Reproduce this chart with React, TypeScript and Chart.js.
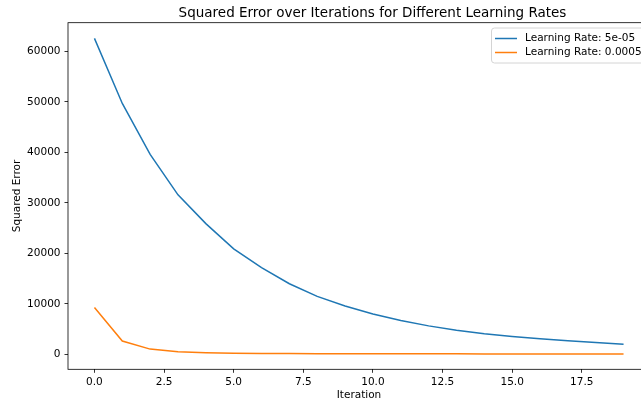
import React, { useEffect, useRef } from "react";
import { Chart, registerables } from "chart.js";

Chart.register(...registerables);

const iterations = [0, 1, 2, 3, 4, 5, 6, 7, 8, 9, 10, 11, 12, 13, 14, 15, 16, 17, 18, 19];
const errorLrSmall = [62600, 49700, 39600, 31600, 25900, 20900, 17200, 14000, 11500, 9600, 8000, 6700, 5650, 4800, 4100, 3550, 3100, 2700, 2350, 2000];
const errorLrLarge = [9300, 2650, 1050, 520, 330, 240, 190, 160, 140, 130, 120, 115, 110, 108, 105, 103, 102, 101, 100, 100];
const seriesLabels = ["Learning Rate: 5e-05", "Learning Rate: 0.0005"];
const seriesColors = ["#1f77b4", "#ff7f0e"];
const xTickValues = [0, 2.5, 5, 7.5, 10, 12.5, 15, 17.5];
const yTickValues = [0, 10000, 20000, 30000, 40000, 50000, 60000];
const chartTitle = "Squared Error over Iterations for Different Learning Rates";
const xAxisTitle = "Iteration";
const yAxisTitle = "Squared Error";

const FONT = '"DejaVu Sans", sans-serif';

const mplPlugin = {
  id: "mplDecor",
  afterDraw(chart: any) {
    const { ctx, chartArea: a } = chart;
    ctx.save();
    // frame
    ctx.strokeStyle = "#000";
    ctx.lineWidth = 0.8;
    ctx.strokeRect(a.left, a.top, a.right - a.left, a.bottom - a.top);
    // title
    ctx.fillStyle = "#000";
    ctx.font = `13.5px ${FONT}`;
    ctx.textAlign = "center";
    ctx.textBaseline = "middle";
    ctx.fillText(chartTitle, 372.5, 13);
    // legend
    const bx = 491.5, by = 28, bw = 154, bh = 35, r = 3;
    ctx.beginPath();
    ctx.moveTo(bx + r, by);
    ctx.lineTo(bx + bw - r, by);
    ctx.arcTo(bx + bw, by, bx + bw, by + r, r);
    ctx.lineTo(bx + bw, by + bh - r);
    ctx.arcTo(bx + bw, by + bh, bx + bw - r, by + bh, r);
    ctx.lineTo(bx + r, by + bh);
    ctx.arcTo(bx, by + bh, bx, by + bh - r, r);
    ctx.lineTo(bx, by + r);
    ctx.arcTo(bx, by, bx + r, by, r);
    ctx.closePath();
    ctx.fillStyle = "rgba(255,255,255,0.8)";
    ctx.fill();
    ctx.strokeStyle = "#d4d4d4";
    ctx.lineWidth = 1;
    ctx.stroke();
    ctx.font = `10.5px ${FONT}`;
    ctx.textAlign = "left";
    ctx.textBaseline = "middle";
    chart.data.datasets.forEach((ds: any, i: number) => {
      const y = 38.5 + i * 14;
      ctx.strokeStyle = ds.borderColor;
      ctx.lineWidth = 1.5;
      ctx.beginPath();
      ctx.moveTo(495, y);
      ctx.lineTo(517, y);
      ctx.stroke();
      ctx.fillStyle = "#000";
      ctx.fillText(ds.label, 525, y);
    });
    ctx.restore();
  },
};

export default function App() {
  const ref = useRef<HTMLCanvasElement | null>(null);
  useEffect(() => {
    if (!ref.current) return;
    Chart.defaults.font.family = FONT;
    Chart.defaults.color = "#000";
    const chart = new Chart(ref.current, {
      type: "line",
      data: {
        datasets: [errorLrSmall, errorLrLarge].map((vals, i) => ({
          label: seriesLabels[i],
          data: iterations.map((it, j) => ({ x: it, y: vals[j] })),
          borderColor: seriesColors[i],
          backgroundColor: seriesColors[i],
          borderWidth: 1.5,
          pointRadius: 0,
          tension: 0,
          fill: false,
        })),
      },
      options: {
        responsive: false,
        animation: false,
        layout: { padding: { top: 22.7, right: 10, bottom: 0, left: 0 } },
        plugins: { legend: { display: false }, title: { display: false }, tooltip: { enabled: false } },
        scales: {
          x: {
            type: "linear",
            min: -0.95,
            max: 19.95,
            afterBuildTicks: (s: any) => { s.ticks = xTickValues.map((v) => ({ value: v })); },
            afterFit: (s: any) => { s.height = 400 - 369.3; },
            ticks: {
              autoSkip: false,
              maxRotation: 0,
              padding: 3,
              font: { size: 10.5 },
              color: "#000",
              callback: (v: any) => Number(v).toFixed(1),
            },
            grid: { drawOnChartArea: false, drawTicks: true, tickLength: 3.5, color: "#000", lineWidth: 0.8 },
            border: { display: false },
            title: { display: true, text: xAxisTitle, font: { size: 10.5 }, color: "#000", padding: { top: 0, bottom: -2 } },
          },
          y: {
            type: "linear",
            min: -2950,
            max: 65700,
            afterBuildTicks: (s: any) => { s.ticks = yTickValues.map((v) => ({ value: v })); },
            afterFit: (s: any) => { s.width = 68; },
            ticks: {
              autoSkip: false,
              padding: 4,
              font: { size: 10.5 },
              color: "#000",
              callback: (v: any) => String(v),
            },
            grid: { drawOnChartArea: false, drawTicks: true, tickLength: 3.5, color: "#000", lineWidth: 0.8 },
            border: { display: false },
            title: { display: true, text: yAxisTitle, font: { size: 10.5 }, color: "#000", padding: { top: 11, bottom: 0 } },
          },
        },
      },
      plugins: [mplPlugin],
    });
    return () => chart.destroy();
  }, []);
  return (
    <div style={{ position: "absolute", left: 0, top: 0, width: 641, height: 400, overflow: "hidden", background: "#fff" }}>
      <canvas ref={ref} width={660} height={400} style={{ display: "block", width: 660, height: 400 }} />
    </div>
  );
}
